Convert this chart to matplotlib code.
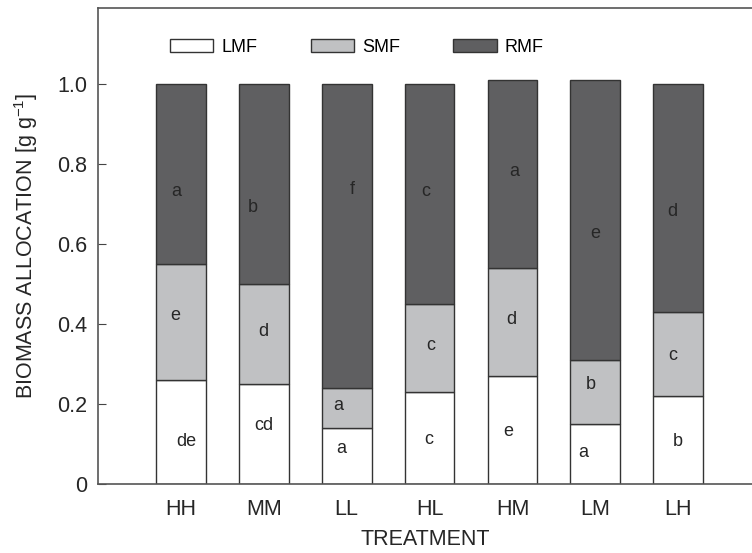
import numpy as np
import matplotlib
matplotlib.use("Agg")
import matplotlib.pyplot as plt
from matplotlib.ticker import FuncFormatter

plt.rcParams['font.family'] = ['Liberation Sans', 'DejaVu Sans']

# data
treatments = ['HH', 'MM', 'LL', 'HL', 'HM', 'LM', 'LH']
lmf = [0.26, 0.25, 0.14, 0.23, 0.27, 0.15, 0.22]
smf = [0.29, 0.25, 0.10, 0.22, 0.27, 0.16, 0.21]
rmf = [0.45, 0.50, 0.76, 0.55, 0.47, 0.70, 0.57]

lmf_letters = ['de', 'cd', 'a', 'c', 'e', 'a', 'b']
smf_letters = ['e', 'd', 'a', 'c', 'd', 'b', 'c']
rmf_letters = ['a', 'b', 'f', 'c', 'a', 'e', 'd']

# where the letters sit (y in data units, x shift from bar centre)
lmf_lab_y = [0.105, 0.145, 0.088, 0.11, 0.13, 0.078, 0.105]
smf_lab_y = [0.42, 0.38, 0.195, 0.345, 0.41, 0.248, 0.32]
rmf_lab_y = [0.73, 0.69, 0.735, 0.73, 0.78, 0.625, 0.68]
lmf_dx = [0.07, 0.0, -0.07, -0.01, -0.05, -0.15, 0.0]
smf_dx = [-0.07, -0.01, -0.1, 0.02, -0.01, -0.05, -0.07]
rmf_dx = [-0.05, -0.13, 0.07, -0.05, 0.02, 0.0, -0.07]

c_l = 'white'
c_s = '#c0c1c3'
c_r = '#5f5f61'
edge = '#333333'
txt = '#262626'

fig = plt.figure(figsize=(7.52, 5.53), dpi=100)
ax = fig.add_axes([98/752, 69/553, 1 - 98/752, 476/553])

x = np.arange(1, len(treatments) + 1)
w = 0.6
lmf = np.array(lmf)
smf = np.array(smf)
rmf = np.array(rmf)
ax.bar(x, lmf, w, color=c_l, edgecolor=edge, linewidth=1.0, label='LMF')
ax.bar(x, smf, w, bottom=lmf, color=c_s, edgecolor=edge, linewidth=1.0, label='SMF')
ax.bar(x, rmf, w, bottom=lmf + smf, color=c_r, edgecolor=edge, linewidth=1.0, label='RMF')

for i in range(len(x)):
    ax.text(x[i] + lmf_dx[i], lmf_lab_y[i], lmf_letters[i], ha='center', va='center', fontsize=13, color=txt)
    ax.text(x[i] + smf_dx[i], smf_lab_y[i], smf_letters[i], ha='center', va='center', fontsize=13, color=txt)
    ax.text(x[i] + rmf_dx[i], rmf_lab_y[i], rmf_letters[i], ha='center', va='center', fontsize=13, color=txt)

ax.set_xlim(0.0, 7.89)
ax.set_ylim(0, 1.19)
ax.set_xticks(x)
ax.set_xticklabels(treatments)
ax.set_yticks([0, 0.2, 0.4, 0.6, 0.8, 1.0])
ax.yaxis.set_major_formatter(FuncFormatter(lambda v, p: '0' if v == 0 else '%.1f' % v))
ax.tick_params(axis='x', length=0, labelsize=15.5, pad=11, colors=txt)
ax.tick_params(axis='y', direction='in', length=6, labelsize=15.5, pad=8, colors='#444444', labelcolor=txt)

for s in ['left', 'top', 'bottom']:
    ax.spines[s].set_color('#555555')
    ax.spines[s].set_linewidth(1.2)
ax.spines['right'].set_visible(False)

ax.set_xlabel('TREATMENT', fontsize=15.5, color=txt, labelpad=6)
ax.set_ylabel('BIOMASS ALLOCATION [g g$^{\\mathregular{-1}}$]', fontsize=15.5, color=txt, labelpad=12)

ax.legend(loc='center left', bbox_to_anchor=(0.085, 0.918), ncol=3, frameon=False,
          fontsize=13, handlelength=2.4, handleheight=0.7, columnspacing=2.95, handletextpad=0.45)

fig.savefig('out.png', dpi=100)
